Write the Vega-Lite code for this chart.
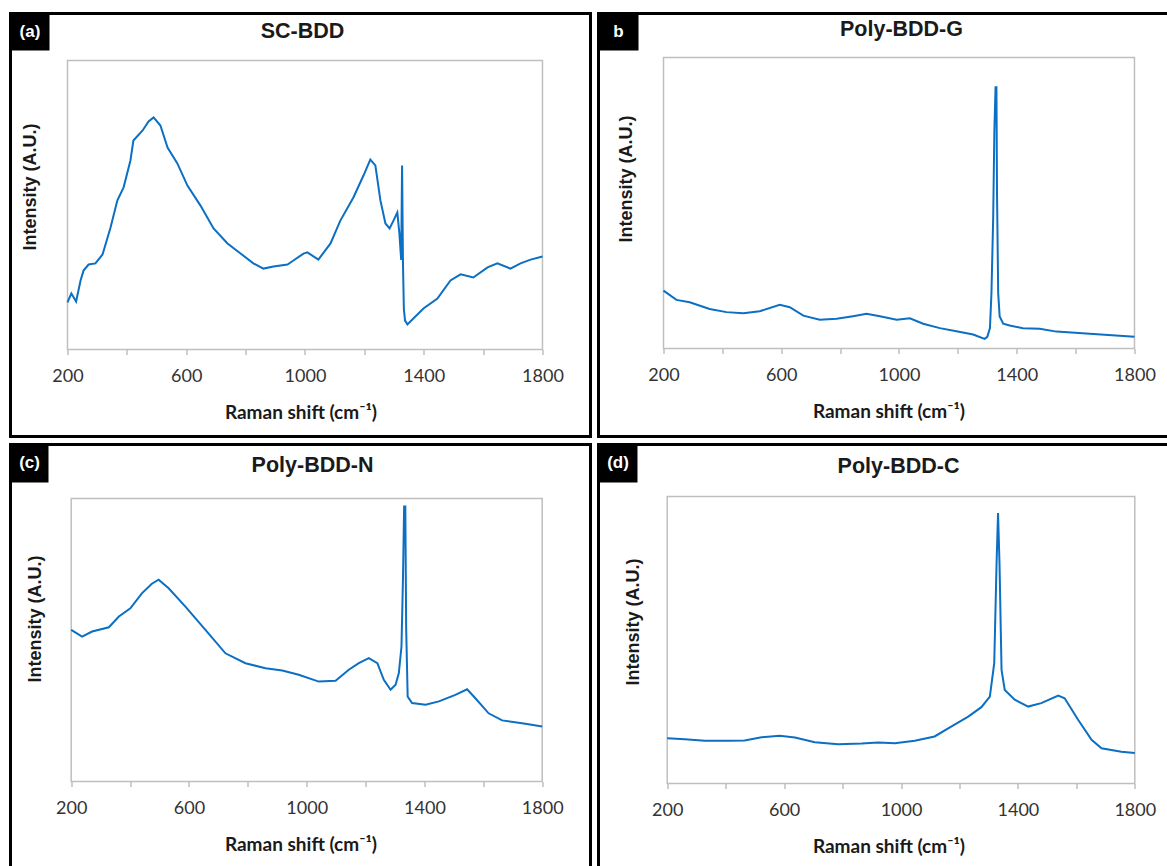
{
  "$schema": "https://vega.github.io/schema/vega-lite/v6.json",
  "padding": {"left": 8.5, "top": 11.5, "right": 0, "bottom": 0},
  "background": "white",
  "config": {
    "view": {"stroke": "black", "strokeWidth": 3},
    "axisX": {"domain": false, "grid": false, "tickColor": "#bfbfbf", "tickSize": 5, "tickWidth": 1.5, "labelFont": "Lato", "labelFontSize": 18, "labelColor": "#333333", "labelPadding": 13, "labelFlush": false, "labelOverlap": false, "titleFont": "Lato", "titleFontSize": 19, "titleFontWeight": "bold", "titleColor": "#1a1a1a", "titlePadding": 18},
    "axisY": {"domain": false, "grid": false, "ticks": false, "labels": false, "titleFont": "Liberation Sans", "titleFontSize": 18, "titleFontWeight": "bold", "titleColor": "#1a1a1a", "titleAngle": -90, "titleAlign": "center", "titleBaseline": "middle"},
    "text": {"font": "Liberation Sans", "fontWeight": "bold"}
  },
  "datasets": {
    "a": [
      {"shift":200,"intensity":16.3},{"shift":213,"intensity":19.4},{"shift":229,"intensity":16.6},{"shift":244,"intensity":23.9},{"shift":254,"intensity":27.3},{"shift":271,"intensity":29.4},{"shift":294,"intensity":29.8},{"shift":318,"intensity":32.9},{"shift":345,"intensity":42.2},{"shift":368,"intensity":51.6},{"shift":389,"intensity":56.1},{"shift":412,"intensity":65.4},{"shift":422,"intensity":72.3},{"shift":453,"intensity":75.8},{"shift":473,"intensity":78.9},{"shift":490,"intensity":80.3},{"shift":513,"intensity":77.5},{"shift":537,"intensity":69.9},{"shift":570,"intensity":64.4},{"shift":604,"intensity":56.7},{"shift":648,"intensity":49.8},{"shift":692,"intensity":41.9},{"shift":739,"intensity":36.7},{"shift":783,"intensity":33.2},{"shift":826,"intensity":29.8},{"shift":860,"intensity":28.0},{"shift":894,"intensity":28.7},{"shift":941,"intensity":29.4},{"shift":961,"intensity":30.8},{"shift":995,"intensity":33.2},{"shift":1008,"intensity":33.6},{"shift":1045,"intensity":31.1},{"shift":1086,"intensity":36.7},{"shift":1119,"intensity":44.6},{"shift":1163,"intensity":52.6},{"shift":1197,"intensity":60.2},{"shift":1220,"intensity":65.7},{"shift":1237,"intensity":63.7},{"shift":1254,"intensity":51.6},{"shift":1271,"intensity":43.6},{"shift":1285,"intensity":41.9},{"shift":1298,"intensity":44.6},{"shift":1311,"intensity":47.4},{"shift":1318,"intensity":40.1},{"shift":1324,"intensity":31.0},{"shift":1327,"intensity":63.7},{"shift":1330,"intensity":30.0},{"shift":1333,"intensity":14.0},{"shift":1337,"intensity":10.0},{"shift":1345,"intensity":8.7},{"shift":1365,"intensity":10.7},{"shift":1399,"intensity":14.2},{"shift":1446,"intensity":17.6},{"shift":1490,"intensity":23.9},{"shift":1524,"intensity":26.0},{"shift":1567,"intensity":24.9},{"shift":1615,"intensity":28.4},{"shift":1648,"intensity":29.8},{"shift":1692,"intensity":28.0},{"shift":1726,"intensity":29.8},{"shift":1760,"intensity":31.1},{"shift":1800,"intensity":32.2}
    ],
    "b": [
      {"shift":200,"intensity":19.9},{"shift":244,"intensity":16.7},{"shift":289,"intensity":15.9},{"shift":357,"intensity":13.6},{"shift":414,"intensity":12.5},{"shift":471,"intensity":12.1},{"shift":527,"intensity":12.8},{"shift":595,"intensity":15.0},{"shift":629,"intensity":14.2},{"shift":675,"intensity":11.3},{"shift":731,"intensity":9.9},{"shift":788,"intensity":10.2},{"shift":844,"intensity":11.1},{"shift":890,"intensity":11.9},{"shift":935,"intensity":11.1},{"shift":992,"intensity":9.9},{"shift":1037,"intensity":10.4},{"shift":1082,"intensity":8.5},{"shift":1139,"intensity":7.0},{"shift":1195,"intensity":5.9},{"shift":1252,"intensity":4.8},{"shift":1291,"intensity":3.3},{"shift":1300,"intensity":4.0},{"shift":1309,"intensity":7.0},{"shift":1314,"intensity":18.8},{"shift":1320,"intensity":45.0},{"shift":1324,"intensity":75.0},{"shift":1328,"intensity":89.8},{"shift":1331,"intensity":89.8},{"shift":1333,"intensity":53.0},{"shift":1337,"intensity":19.0},{"shift":1342,"intensity":11.0},{"shift":1354,"intensity":8.5},{"shift":1376,"intensity":7.9},{"shift":1421,"intensity":7.0},{"shift":1478,"intensity":6.8},{"shift":1535,"intensity":5.8},{"shift":1648,"intensity":5.1},{"shift":1800,"intensity":4.0}
    ],
    "c": [
      {"shift":200,"intensity":53.6},{"shift":237,"intensity":51.2},{"shift":271,"intensity":53.0},{"shift":328,"intensity":54.5},{"shift":362,"intensity":58.3},{"shift":401,"intensity":61.2},{"shift":440,"intensity":66.5},{"shift":474,"intensity":69.9},{"shift":497,"intensity":71.3},{"shift":531,"intensity":68.3},{"shift":588,"intensity":61.8},{"shift":656,"intensity":53.6},{"shift":724,"intensity":45.3},{"shift":792,"intensity":41.8},{"shift":860,"intensity":40.0},{"shift":917,"intensity":39.2},{"shift":973,"intensity":37.7},{"shift":1041,"intensity":35.3},{"shift":1098,"intensity":35.6},{"shift":1143,"intensity":39.5},{"shift":1177,"intensity":41.8},{"shift":1211,"intensity":43.6},{"shift":1240,"intensity":41.8},{"shift":1262,"intensity":35.9},{"shift":1285,"intensity":32.4},{"shift":1302,"intensity":34.2},{"shift":1313,"intensity":38.3},{"shift":1322,"intensity":47.7},{"shift":1327,"intensity":71.4},{"shift":1331,"intensity":97.2},{"shift":1335,"intensity":97.2},{"shift":1338,"intensity":53.7},{"shift":1343,"intensity":30.0},{"shift":1358,"intensity":27.7},{"shift":1404,"intensity":27.1},{"shift":1449,"intensity":28.3},{"shift":1505,"intensity":30.6},{"shift":1545,"intensity":32.6},{"shift":1573,"intensity":29.4},{"shift":1618,"intensity":24.1},{"shift":1664,"intensity":21.6},{"shift":1743,"intensity":20.4},{"shift":1800,"intensity":19.4}
    ],
    "d": [
      {"shift":200,"intensity":15.8},{"shift":260,"intensity":15.4},{"shift":329,"intensity":14.9},{"shift":409,"intensity":14.9},{"shift":465,"intensity":15.0},{"shift":523,"intensity":16.1},{"shift":585,"intensity":16.6},{"shift":637,"intensity":16.0},{"shift":705,"intensity":14.4},{"shift":785,"intensity":13.7},{"shift":865,"intensity":13.9},{"shift":922,"intensity":14.3},{"shift":979,"intensity":14.0},{"shift":1047,"intensity":14.9},{"shift":1115,"intensity":16.4},{"shift":1173,"intensity":19.9},{"shift":1230,"intensity":23.3},{"shift":1275,"intensity":26.6},{"shift":1304,"intensity":30.3},{"shift":1319,"intensity":41.9},{"shift":1327,"intensity":76.8},{"shift":1332,"intensity":94.2},{"shift":1337,"intensity":76.8},{"shift":1344,"intensity":39.6},{"shift":1355,"intensity":32.6},{"shift":1389,"intensity":29.2},{"shift":1435,"intensity":26.8},{"shift":1480,"intensity":28.0},{"shift":1538,"intensity":30.6},{"shift":1560,"intensity":29.7},{"shift":1606,"intensity":22.2},{"shift":1652,"intensity":15.2},{"shift":1686,"intensity":12.3},{"shift":1754,"intensity":11.1},{"shift":1800,"intensity":10.6}
    ]
  },
  "spacing": 4,
  "vconcat": [
    {
      "spacing": 4,
      "hconcat": [
        {
          "width": 580, "height": 423,
          "layer": [
            {"data": {"values": [{}]}, "mark": {"type": "rect", "fillOpacity": 0, "stroke": "#bfbfbf", "strokeWidth": 1.5}, "encoding": {"x": {"datum": 200}, "x2": {"datum": 1800}, "y": {"datum": 0}, "y2": {"datum": 100}}},
            {"data": {"name": "a"}, "mark": {"type": "line", "color": "#0b6fc4", "strokeWidth": 2},
             "encoding": {
               "x": {"field": "shift", "type": "quantitative", "scale": {"domain": [8, 1961.7], "nice": false, "zero": false},
                     "axis": {"values": [200,400,600,800,1000,1200,1400,1600,1800], "labelExpr": "datum.value % 400 == 200 ? datum.label : ''", "format": "d", "offset": -87, "title": "Raman shift (cm⁻¹)"}},
               "y": {"field": "intensity", "type": "quantitative", "scale": {"domain": [-30.1, 116.26], "nice": false, "zero": false},
                     "axis": {"title": "Intensity (A.U.)", "titleX": 20, "titleY": 173}}
             }},
            {"data": {"values": [{"label": "SC-BDD"}]}, "mark": {"type": "text", "color": "#1a1a1a", "fontSize": 21.5, "baseline": "middle"}, "encoding": {"x": {"datum": 991.6}, "y": {"datum": 110.03}, "text": {"field": "label"}}},
            {"data": {"values": [{"label": "(a)"}]}, "mark": {"type": "rect", "color": "black"}, "encoding": {"x": {"datum": 8}, "x2": {"datum": 139.4}, "y": {"datum": 116.26}, "y2": {"datum": 103.5}}},
            {"data": {"values": [{"label": "(a)"}]}, "mark": {"type": "text", "color": "white", "fontSize": 17}, "encoding": {"x": {"datum": 73.7}, "y": {"datum": 109.9}, "text": {"field": "label"}}}
          ]
        },
        {
          "width": 580, "height": 423,
          "layer": [
            {"data": {"values": [{}]}, "mark": {"type": "rect", "fillOpacity": 0, "stroke": "#bfbfbf", "strokeWidth": 1.5}, "encoding": {"x": {"datum": 200}, "x2": {"datum": 1800}, "y": {"datum": 0}, "y2": {"datum": 100}}},
            {"data": {"name": "b"}, "mark": {"type": "line", "color": "#0b6fc4", "strokeWidth": 2},
             "encoding": {
               "x": {"field": "shift", "type": "quantitative", "scale": {"domain": [-20.8, 1949.5], "nice": false, "zero": false},
                     "axis": {"values": [200,400,600,800,1000,1200,1400,1600,1800], "labelExpr": "datum.value % 400 == 200 ? datum.label : ''", "format": "d", "offset": -88, "title": "Raman shift (cm⁻¹)"}},
               "y": {"field": "intensity", "type": "quantitative", "scale": {"domain": [-30.24, 115.12], "nice": false, "zero": false},
                     "axis": {"title": "Intensity (A.U.)", "titleX": 28, "titleY": 165}}
             }},
            {"data": {"values": [{"label": "Poly-BDD-G"}]}, "mark": {"type": "text", "color": "#1a1a1a", "fontSize": 21.5, "baseline": "middle"}, "encoding": {"x": {"datum": 1008.5}, "y": {"datum": 109.28}, "text": {"field": "label"}}},
            {"data": {"values": [{"label": "b"}]}, "mark": {"type": "rect", "color": "black"}, "encoding": {"x": {"datum": -20.8}, "x2": {"datum": 115.1}, "y": {"datum": 115.12}, "y2": {"datum": 102.4}}},
            {"data": {"values": [{"label": "b"}]}, "mark": {"type": "text", "color": "white", "fontSize": 17}, "encoding": {"x": {"datum": 47.2}, "y": {"datum": 108.8}, "text": {"field": "label"}}}
          ]
        }
      ]
    },
    {
      "spacing": 4,
      "hconcat": [
        {
          "width": 580, "height": 426,
          "layer": [
            {"data": {"values": [{}]}, "mark": {"type": "rect", "fillOpacity": 0, "stroke": "#bfbfbf", "strokeWidth": 1.5}, "encoding": {"x": {"datum": 200}, "x2": {"datum": 1800}, "y": {"datum": 0}, "y2": {"datum": 100}}},
            {"data": {"name": "c"}, "mark": {"type": "line", "color": "#0b6fc4", "strokeWidth": 2},
             "encoding": {
               "x": {"field": "shift", "type": "quantitative", "scale": {"domain": [-6.2, 1964.1], "nice": false, "zero": false},
                     "axis": {"values": [200,400,600,800,1000,1200,1400,1600,1800], "labelExpr": "datum.value % 400 == 200 ? datum.label : ''", "format": "d", "offset": -89, "title": "Raman shift (cm⁻¹)"}},
               "y": {"field": "intensity", "type": "quantitative", "scale": {"domain": [-31.45, 119.08], "nice": false, "zero": false},
                     "axis": {"title": "Intensity (A.U.)", "titleX": 25, "titleY": 174}}
             }},
            {"data": {"values": [{"label": "Poly-BDD-N"}]}, "mark": {"type": "text", "color": "#1a1a1a", "fontSize": 21.5, "baseline": "middle"}, "encoding": {"x": {"datum": 1019.7}, "y": {"datum": 111.31}, "text": {"field": "label"}}},
            {"data": {"values": [{"label": "(c)"}]}, "mark": {"type": "rect", "color": "black"}, "encoding": {"x": {"datum": -6.2}, "x2": {"datum": 122.9}, "y": {"datum": 119.08}, "y2": {"datum": 105.65}}},
            {"data": {"values": [{"label": "(c)"}]}, "mark": {"type": "text", "color": "white", "fontSize": 17}, "encoding": {"x": {"datum": 58.4}, "y": {"datum": 112.4}, "text": {"field": "label"}}}
          ]
        },
        {
          "width": 580, "height": 426,
          "layer": [
            {"data": {"values": [{}]}, "mark": {"type": "rect", "fillOpacity": 0, "stroke": "#bfbfbf", "strokeWidth": 1.5}, "encoding": {"x": {"datum": 200}, "x2": {"datum": 1800}, "y": {"datum": 0}, "y2": {"datum": 100}}},
            {"data": {"name": "d"}, "mark": {"type": "line", "color": "#0b6fc4", "strokeWidth": 2},
             "encoding": {
               "x": {"field": "shift", "type": "quantitative", "scale": {"domain": [-35.1, 1949.5], "nice": false, "zero": false},
                     "axis": {"values": [200,400,600,800,1000,1200,1400,1600,1800], "labelExpr": "datum.value % 400 == 200 ? datum.label : ''", "format": "d", "offset": -87, "title": "Raman shift (cm⁻¹)"}},
               "y": {"field": "intensity", "type": "quantitative", "scale": {"domain": [-30.31, 118.12], "nice": false, "zero": false},
                     "axis": {"title": "Intensity (A.U.)", "titleX": 35, "titleY": 177}}
             }},
            {"data": {"values": [{"label": "Poly-BDD-C"}]}, "mark": {"type": "text", "color": "#1a1a1a", "fontSize": 21.5, "baseline": "middle"}, "encoding": {"x": {"datum": 991.4}, "y": {"datum": 110.45}, "text": {"field": "label"}}},
            {"data": {"values": [{"label": "(d)"}]}, "mark": {"type": "rect", "color": "black"}, "encoding": {"x": {"datum": -35.1}, "x2": {"datum": 98.3}, "y": {"datum": 118.12}, "y2": {"datum": 104.88}}},
            {"data": {"values": [{"label": "(d)"}]}, "mark": {"type": "text", "color": "white", "fontSize": 17}, "encoding": {"x": {"datum": 31.6}, "y": {"datum": 111.5}, "text": {"field": "label"}}}
          ]
        }
      ]
    }
  ]
}
